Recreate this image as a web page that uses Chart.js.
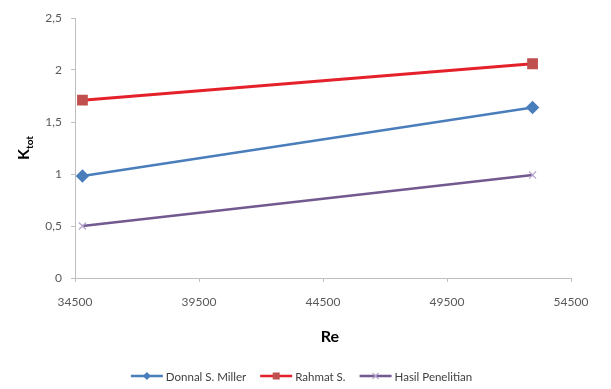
<!DOCTYPE html>
<html>
<head>
<meta charset="utf-8">
<script src="https://cdn.jsdelivr.net/npm/chart.js@4"></script>
<style>
  html, body { margin: 0; padding: 0; background: #fff; }
  #wrap { width: 611px; height: 389px; }
</style>
</head>
<body>
<div id="wrap"><canvas id="chart" width="611" height="389"></canvas></div>
<script>
const reValues = [34800, 52950];
const seriesNames = ["Donnal S. Miller", "Rahmat S.", "Hasil Penelitian"];
const miller = [0.98, 1.64];
const rahmat = [1.71, 2.06];
const hasil = [0.50, 0.99];
const reTicks = [34500, 39500, 44500, 49500, 54500];
const kTicks = [0, 0.5, 1, 1.5, 2, 2.5];

const FONT = "Lato, 'Open Sans', sans-serif";
const axisColor = '#bfbfbf';
const textColor = '#595959';

function pts(ys) {
  return reValues.map((x, i) => ({ x: x, y: ys[i] }));
}

// axis titles (K_tot needs a subscript) and the line + marker legend
const extras = {
  id: 'extras',
  afterDraw(chart) {
    const ctx = chart.ctx;
    const area = chart.chartArea;

    // x title
    ctx.save();
    ctx.fillStyle = '#000';
    ctx.font = "bold 16px " + FONT;
    ctx.textAlign = 'center';
    ctx.textBaseline = 'middle';
    ctx.fillText('Re', (area.left + area.right) / 2 + 7, 337);
    ctx.restore();

    // y title
    ctx.save();
    ctx.translate(23, (area.top + area.bottom) / 2);
    ctx.rotate(-Math.PI / 2);
    ctx.fillStyle = '#000';
    ctx.textBaseline = 'alphabetic';
    ctx.font = "bold 16px " + FONT;
    const kw = ctx.measureText('K').width;
    ctx.font = "bold 10px " + FONT;
    const sw = ctx.measureText('tot').width;
    const start = -(kw + sw) / 2;
    ctx.font = "bold 16px " + FONT;
    ctx.fillText('K', start, 6);
    ctx.font = "bold 10px " + FONT;
    ctx.fillText('tot', start + kw, 10);
    ctx.restore();

    // legend
    ctx.save();
    ctx.font = "11.5px " + FONT;
    ctx.textBaseline = 'middle';
    const y = 376;
    const lineW = 32, gap = 3, spacing = 14;
    const items = chart.data.datasets.map(ds => ({
      ds: ds, w: lineW + gap + ctx.measureText(ds.label).width
    }));
    const total = items.reduce((s, it) => s + it.w, 0) + spacing * (items.length - 1);
    let x = (chart.width - total) / 2 - 4;
    items.forEach(it => {
      const ds = it.ds;
      ctx.strokeStyle = ds.borderColor;
      ctx.lineWidth = 2.5;
      ctx.beginPath();
      ctx.moveTo(x, y);
      ctx.lineTo(x + lineW, y);
      ctx.stroke();
      const cx = x + lineW / 2;
      ctx.fillStyle = ds.pointBackgroundColor;
      ctx.strokeStyle = ds.pointBorderColor;
      ctx.lineWidth = 1;
      if (ds.pointStyle === 'rect') {
        ctx.fillRect(cx - 3.5, y - 3.5, 7, 7);
      } else if (ds.pointStyle === 'rectRot') {
        ctx.beginPath();
        ctx.moveTo(cx, y - 4); ctx.lineTo(cx + 4, y);
        ctx.lineTo(cx, y + 4); ctx.lineTo(cx - 4, y);
        ctx.closePath(); ctx.fill();
      } else {
        ctx.lineWidth = 1.2;
        ctx.beginPath();
        ctx.moveTo(cx - 3, y - 3); ctx.lineTo(cx + 3, y + 3);
        ctx.moveTo(cx - 3, y + 3); ctx.lineTo(cx + 3, y - 3);
        ctx.stroke();
      }
      ctx.fillStyle = '#404040';
      ctx.fillText(ds.label, x + lineW + gap, y + 1);
      x += it.w + spacing;
    });
    ctx.restore();
  }
};

new Chart(document.getElementById('chart'), {
  type: 'line',
  data: {
    datasets: [
      {
        label: seriesNames[0],
        data: pts(miller),
        borderColor: '#4a7ebb',
        borderWidth: 2.5,
        pointStyle: 'rectRot',
        pointRadius: 5,
        pointBackgroundColor: '#4a7ebb',
        pointBorderColor: '#4a7ebb'
      },
      {
        label: seriesNames[1],
        data: pts(rahmat),
        borderColor: '#e4212b',
        borderWidth: 3,
        pointStyle: 'rect',
        pointRadius: 5.5,
        pointBackgroundColor: '#c0504d',
        pointBorderColor: '#c0504d'
      },
      {
        label: seriesNames[2],
        data: pts(hasil),
        borderColor: '#72598f',
        borderWidth: 2.5,
        pointStyle: 'crossRot',
        pointRadius: 5,
        pointBorderWidth: 1.2,
        pointBackgroundColor: '#b7a6d0',
        pointBorderColor: '#b7a6d0'
      }
    ]
  },
  options: {
    responsive: false,
    animation: false,
    layout: { padding: { top: 18, right: 40, left: 0, bottom: 0 } },
    plugins: {
      legend: { display: false },
      tooltip: { enabled: false }
    },
    scales: {
      x: {
        type: 'linear',
        min: reTicks[0],
        max: reTicks[reTicks.length - 1],
        afterBuildTicks: s => { s.ticks = reTicks.map(v => ({ value: v })); },
        afterFit: s => { s.height = 111; },
        grid: {
          display: true,
          drawOnChartArea: false,
          drawTicks: true,
          tickLength: 4,
          color: axisColor
        },
        border: { color: axisColor, width: 1 },
        ticks: {
          color: textColor,
          font: { family: FONT, size: 12 },
          padding: 13,
          maxRotation: 0,
          callback: v => String(v)
        }
      },
      y: {
        min: 0,
        max: 2.5,
        afterBuildTicks: s => { s.ticks = kTicks.map(v => ({ value: v })); },
        afterFit: s => { s.width = 75; },
        grid: {
          display: true,
          drawOnChartArea: false,
          drawTicks: true,
          tickLength: 4,
          color: axisColor
        },
        border: { color: axisColor, width: 1 },
        ticks: {
          color: textColor,
          font: { family: FONT, size: 12 },
          padding: 9,
          callback: v => String(v).replace('.', ',')
        }
      }
    }
  },
  plugins: [extras]
});
</script>
</body>
</html>
